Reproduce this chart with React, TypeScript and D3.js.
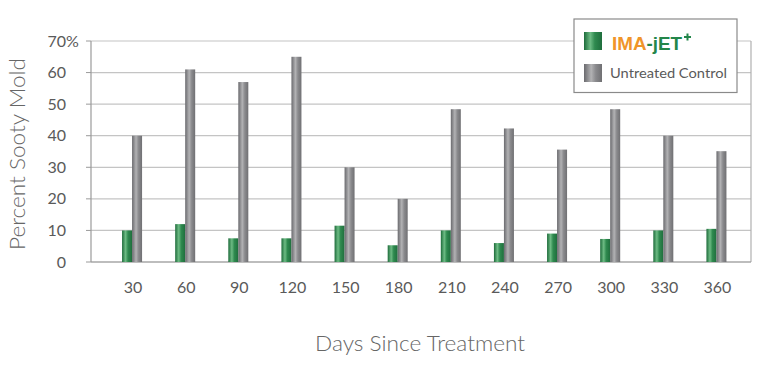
import React from "react";
import * as d3 from "d3";

const categories = ["30", "60", "90", "120", "150", "180", "210", "240", "270", "300", "330", "360"];
const imaJet = [10, 12, 7.5, 7.5, 11.5, 5.3, 10, 6, 9, 7.3, 10, 10.5];
const untreated = [40, 61, 57, 65, 30, 20, 48.4, 42.3, 35.6, 48.4, 40, 35.1];
const yTicks = [0, 10, 20, 30, 40, 50, 60, 70];

const W = 760;
const H = 382;
const plotLeft = 91;
const plotRight = 751;
const plotTop = 41;
const plotBottom = 262;
const barW = 10;

export default function App() {
  const x = d3.scaleBand<string>().domain(categories).range([105.5, 743]).padding(0);
  const y = d3.scaleLinear().domain([0, 70]).range([plotBottom, plotTop]);
  const cx = (c: string) => (x(c) as number) + x.bandwidth() / 2;
  const font = "Lato, 'Open Sans', sans-serif";
  const textCol = "#5a5a5a";

  return (
    <svg width={W} height={H} style={{ position: "absolute", left: 0, top: 0, background: "#fff" }}>
      <defs>
        <linearGradient id="gGreen" x1="0" x2="1" y1="0" y2="0">
          <stop offset="0" stopColor="#1d6b3a" />
          <stop offset="0.35" stopColor="#6dbb84" />
          <stop offset="0.6" stopColor="#2f8a4f" />
          <stop offset="1" stopColor="#1f6e3d" />
        </linearGradient>
        <linearGradient id="gGray" x1="0" x2="1" y1="0" y2="0">
          <stop offset="0" stopColor="#6a6a6e" />
          <stop offset="0.4" stopColor="#b2b2b4" />
          <stop offset="0.65" stopColor="#8a8a8d" />
          <stop offset="1" stopColor="#707073" />
        </linearGradient>
      </defs>

      {/* gridlines */}
      {yTicks.map((t) => (
        <line key={"g" + t} x1={plotLeft} x2={plotRight} y1={y(t)} y2={y(t)} stroke="#c4c4c4" strokeWidth={1.2} />
      ))}
      {/* frame */}
      <line x1={plotLeft} x2={plotLeft} y1={plotTop} y2={plotBottom} stroke="#9a9a9a" strokeWidth={1.2} />
      <line x1={plotRight} x2={plotRight} y1={plotTop} y2={plotBottom} stroke="#b0b0b0" strokeWidth={1.2} />
      <line x1={plotLeft} x2={plotRight} y1={plotBottom} y2={plotBottom} stroke="#9a9a9a" strokeWidth={1.2} />

      {/* y ticks & labels */}
      {yTicks.map((t) => (
        <g key={"t" + t}>
          <line x1={86} x2={plotLeft} y1={y(t)} y2={y(t)} stroke="#9a9a9a" strokeWidth={1} />
          <text x={66} y={y(t) + 5.5} textAnchor="end" fontFamily={font} fontSize={16} fill={textCol}>
            {t}
          </text>
          {t === 70 && (
            <text x={66} y={y(t) + 5.5} textAnchor="start" fontFamily={font} fontSize={16} fill={textCol}>
              %
            </text>
          )}
        </g>
      ))}

      {/* bars */}
      {categories.map((c, i) => (
        <g key={"b" + c}>
          <rect x={cx(c) - barW} y={y(imaJet[i])} width={barW} height={plotBottom - y(imaJet[i])} fill="url(#gGreen)" />
          <rect x={cx(c)} y={y(untreated[i])} width={barW} height={plotBottom - y(untreated[i])} fill="url(#gGray)" />
        </g>
      ))}

      {/* x labels */}
      {categories.map((c) => (
        <text key={"x" + c} x={cx(c) + 1} y={293} textAnchor="middle" fontFamily={font} fontSize={16} fill={textCol}>
          {c}
        </text>
      ))}

      {/* axis titles */}
      <text
        transform={`translate(25, 154) rotate(-90)`}
        textAnchor="middle"
        fontFamily={font}
        fontWeight={300}
        fontSize={22}
        fill="#666"
        textLength={192}
        lengthAdjust="spacingAndGlyphs"
      >
        Percent Sooty Mold
      </text>
      <text x={420} y={351} textAnchor="middle" fontFamily={font} fontWeight={300} fontSize={22} fill="#666" textLength={210} lengthAdjust="spacingAndGlyphs">
        Days Since Treatment
      </text>

      {/* legend */}
      <rect x={574} y={19} width={163} height={73.5} fill="#fff" stroke="#8a8a8a" strokeWidth={1.2} />
      <rect x={584} y={32} width={18} height={18} fill="url(#gGreen)" />
      <rect x={584} y={64} width={18} height={18} fill="url(#gGray)" />
      <text x={612} y={49.5} fontFamily="'Liberation Sans', sans-serif" fontWeight={700} fontSize={19} textLength={70} lengthAdjust="spacingAndGlyphs">
        <tspan fill="#f0952a">IMA</tspan>
        <tspan fill="#23864a">-jET</tspan>
      </text>
      <path d="M684,37 h7 M687.5,33.5 v7" stroke="#23864a" strokeWidth={2} />
      <text x={610} y={78} fontFamily={font} fontSize={14} fill={textCol} textLength={117} lengthAdjust="spacingAndGlyphs">
        Untreated Control
      </text>
    </svg>
  );
}
